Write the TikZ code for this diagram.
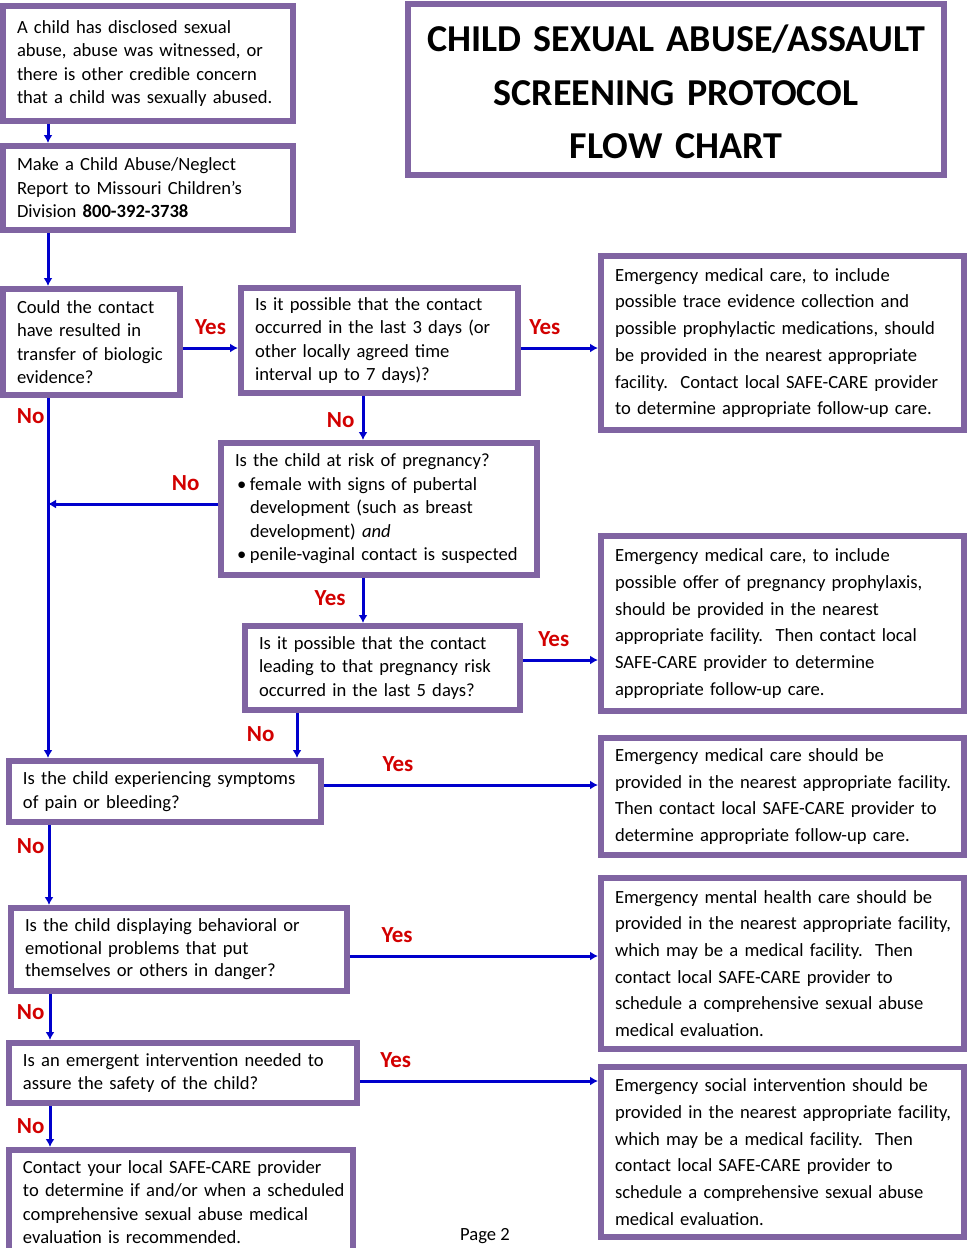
\documentclass[tikz,border=0pt]{standalone}
\usepackage{fontspec}
\setmainfont{Carlito}
\usetikzlibrary{arrows.meta}
\definecolor{boxpurple}{RGB}{128,100,162}
\definecolor{flowblue}{RGB}{0,0,204}
\definecolor{answerred}{RGB}{210,0,0}

\begin{document}
\begin{tikzpicture}[x=1pt, y=-1pt,
      frame/.style={rectangle, draw=boxpurple, line width=6pt, anchor=north west,
                    inner xsep=14pt, inner ysep=4pt},
      box/.style={frame, align=left, font=\fontsize{18.6}{23.5}\selectfont,
                  execute at begin node={\rightskip=-20pt plus 1fil}},
      care/.style={box, font=\fontsize{18.6}{26.7}\selectfont},
      answer/.style={font=\bfseries\fontsize{23}{23}\selectfont, text=answerred, inner sep=2pt},
      flow/.style={-{Latex[length=8pt,width=9pt]}, draw=flowblue, line width=3pt}]
      \useasboundingbox (0,0) rectangle (969,1248);

      \node[box, text width=262pt, minimum height=115pt] (disclose) at (0,3)
        {A child has disclosed sexual\\abuse, abuse was witnessed, or\\there is other credible concern\\that a child was sexually abused.};
      \node[box, text width=262pt, minimum height=84pt] (report) at (0,143)
        {Make a Child Abuse/Neglect\\Report to Missouri Children’s\\Division \textbf{800-392-3738}};
      \node[frame, align=center, font=\bfseries\fontsize{38}{53.5}\selectfont,
            text width=508pt, minimum height=171pt] (title) at (405,1)
        {\rule{0pt}{32pt}CHILD SEXUAL ABUSE/ASSAULT\\SCREENING PROTOCOL\\FLOW CHART};

      \node[box, text width=149pt, minimum height=106pt] (biologic) at (0,286)
        {Could the contact\\have resulted in\\transfer of biologic\\evidence?};
      \node[box, text width=249pt, minimum height=105pt] (threedays) at (238,285)
        {Is it possible that the contact\\occurred in the last 3 days (or\\other locally agreed time\\interval up to 7 days)?};
      \node[care, text width=335pt, minimum height=174pt] (medcare) at (598,253)
        {Emergency medical care, to include\\possible trace evidence collection and\\possible prophylactic medications, should\\be provided in the nearest appropriate\\facility.\ \ Contact local SAFE-CARE provider\\to determine appropriate follow-up care.};

      \node[box, text width=288pt, minimum height=132pt] (pregrisk) at (218,440)
        {Is the child at risk of pregnancy?\\
         \makebox[15pt][l]{\hspace{2pt}\textbullet}female with signs of pubertal\\
         \hspace*{15pt}development (such as breast\\
         \hspace*{15pt}development) \textit{and}\\
         \makebox[15pt][l]{\hspace{2pt}\textbullet}penile-vaginal contact is suspected};
      \node[care, text width=335pt, minimum height=175pt] (pregcare) at (598,533)
        {Emergency medical care, to include\\possible offer of pregnancy prophylaxis,\\should be provided in the nearest\\appropriate facility.\ \ Then contact local\\SAFE-CARE provider to determine\\appropriate follow-up care.};
      \node[box, text width=247pt, minimum height=84pt] (fivedays) at (242,623)
        {Is it possible that the contact\\leading to that pregnancy risk\\occurred in the last 5 days?};

      \node[box, text width=284pt, minimum height=61pt] (pain) at (6,758)
        {Is the child experiencing symptoms\\of pain or bleeding?};
      \node[care, text width=335pt, minimum height=117pt] (paincare) at (598,735)
        {Emergency medical care should be\\provided in the nearest appropriate facility.\\Then contact local SAFE-CARE provider to\\determine appropriate follow-up care.};

      \node[box, text width=308pt, minimum height=83pt, font=\fontsize{18.6}{22.5}\selectfont] (behave) at (8,905)
        {Is the child displaying behavioral or\\emotional problems that put\\themselves or others in danger?};
      \node[care, text width=335pt, minimum height=171pt] (mental) at (598,875)
        {Emergency mental health care should be\\provided in the nearest appropriate facility,\\which may be a medical facility.\ \ Then\\contact local SAFE-CARE provider to\\schedule a comprehensive sexual abuse\\medical evaluation.};

      \node[box, text width=320pt, minimum height=60pt] (safety) at (6,1040)
        {Is an emergent intervention needed to\\assure the safety of the child?};
      \node[care, text width=335pt, minimum height=170pt] (social) at (598,1064)
        {Emergency social intervention should be\\provided in the nearest appropriate facility,\\which may be a medical facility.\ \ Then\\contact local SAFE-CARE provider to\\schedule a comprehensive sexual abuse\\medical evaluation.};

      \node[box, text width=316pt, minimum height=104pt] (contact) at (6,1147)
        {Contact your local SAFE-CARE provider\\to determine if and/or when a scheduled\\comprehensive sexual abuse medical\\evaluation is recommended.};
      \node[font=\fontsize{18.6}{19}\selectfont] (page) at (485,1236) {Page 2};

      \coordinate (spine) at ([xshift=48pt]biologic.south west);
      \coordinate (riskno) at ([yshift=5pt]pregrisk.west);

      \draw[flow] ([xshift=48pt]disclose.south west) -- ([xshift=48pt]report.north west);
      \draw[flow] ([xshift=48pt]report.south west) -- ([xshift=48pt]biologic.north west);
      \draw[flow] ([yshift=-6pt]biologic.east) -- node[answer, above=10pt]{Yes} ([yshift=-7.5pt]threedays.west);
      \draw[flow] ([yshift=-7.5pt]threedays.east) -- node[answer, above=10pt, pos=0.31]{Yes} ([yshift=-5pt]medcare.west);
      \draw[flow] ([xshift=-16.5pt]threedays.south) -- node[answer, left=5pt, pos=0.545]{No} ([xshift=-16pt]pregrisk.north);
      \draw[flow] (spine) -- node[answer, left=0pt, pos=0.05]{No} ([xshift=42pt]pain.north west);
      \draw[flow] (riskno) -- node[answer, above=10pt, pos=0.19]{No} (riskno -| spine);
      \draw[flow] ([xshift=-16pt]pregrisk.south) -- node[answer, left=14pt, pos=0.44]{Yes} ([xshift=-19.5pt]fivedays.north);
      \draw[flow] ([yshift=8pt]fivedays.east) -- node[answer, above=10pt, pos=0.41]{Yes} ([yshift=-36.5pt]pregcare.west);
      \draw[flow] ([xshift=55pt]fivedays.south west) -- node[answer, left=19pt, pos=0.47]{No} ([xshift=291pt]pain.north west);
      \draw[flow] ([yshift=6.5pt]pain.east) -- node[answer, above=10pt, pos=0.27]{Yes} ([yshift=11.5pt]paincare.west);
      \draw[flow] ([xshift=43pt]pain.south west) -- node[answer, left=1pt, pos=0.26]{No} ([xshift=41pt]behave.north west);
      \draw[flow] ([yshift=-6.5pt]behave.east) -- node[answer, above=10pt, pos=0.19]{Yes} ([yshift=7.5pt]mental.west);
      \draw[flow] ([xshift=42pt]behave.south west) -- node[answer, left=2pt, pos=0.39]{No} ([xshift=44pt]safety.north west);
      \draw[flow] ([yshift=-8pt]safety.east) -- node[answer, above=10pt, pos=0.15]{Yes} ([yshift=71pt]social.west);
      \draw[flow] ([xshift=44pt]safety.south west) -- node[answer, left=2pt, pos=0.49]{No} ([xshift=44pt]contact.north west);
    \end{tikzpicture}
\end{document}
